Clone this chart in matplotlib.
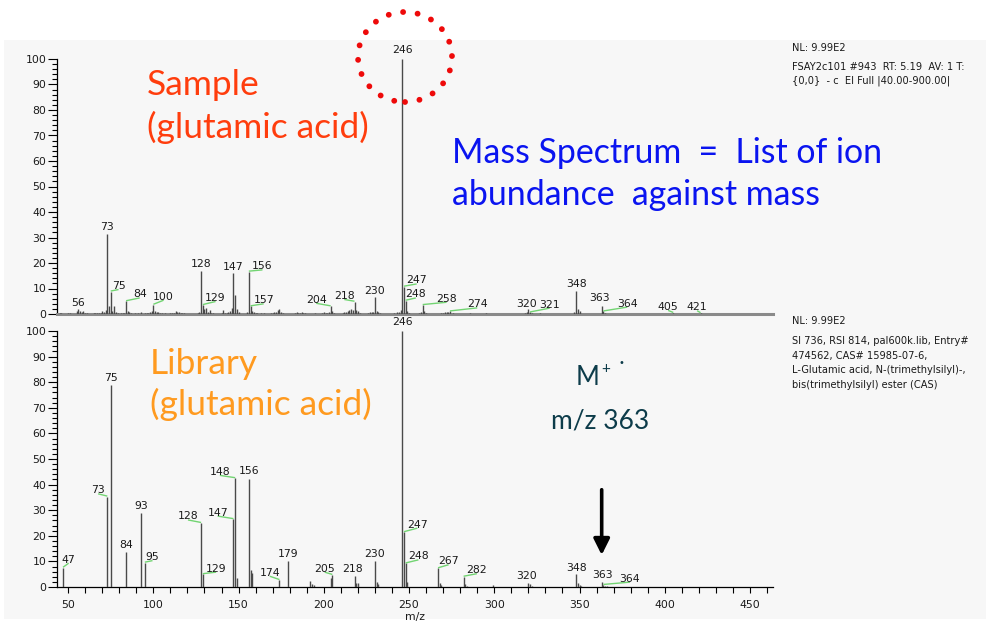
import matplotlib
matplotlib.use("Agg")
import matplotlib.pyplot as plt
from matplotlib.patches import Rectangle, Ellipse
from matplotlib.ticker import MultipleLocator

# ---------------- data ----------------
# Sample spectrum: m/z and relative abundance (%)
sample_mz = [45, 46, 50, 51, 55, 56, 57, 58, 59, 60, 61, 65, 66, 67, 68, 69, 70, 71, 72,
             73, 74, 75, 76, 77, 78, 79, 81, 82, 83, 84, 85, 86, 87, 89, 91, 93, 95, 96,
             97, 98, 99, 100, 101, 102, 103, 104, 105, 107, 110, 111, 112, 113, 114, 115,
             116, 117, 118, 126, 127, 128, 129, 130, 131, 132, 133, 134, 135, 140, 141,
             142, 143, 144, 145, 146, 147, 148, 149, 150, 155, 156, 157, 158, 159, 160,
             161, 163, 165, 169, 170, 171, 172, 173, 174, 175, 176, 183, 184, 185, 186,
             187, 188, 189, 195, 199, 200, 201, 202, 203, 204, 205, 206, 211, 212, 213,
             214, 215, 216, 217, 218, 219, 220, 221, 226, 227, 228, 229, 230, 231, 232,
             233, 241, 243, 244, 245, 246, 247, 248, 249, 250, 256, 257, 258, 259, 260,
             269, 270, 271, 272, 273, 274, 276, 286, 295, 318, 319, 320, 321, 322, 327,
             347, 348, 349, 350, 363, 364, 365, 405, 421]
sample_ab = [0.5, 0.3, 0.5, 0.4, 1.0, 2.0, 1.2, 0.8, 1.0, 0.4, 0.3, 0.4, 0.3, 0.4, 0.3, 0.5,
             1.0, 0.8, 1.5, 31.5, 3.0, 8.8, 1.2, 3.0, 0.6, 0.4, 0.5, 0.3, 0.4, 5.0, 1.0,
             0.6, 0.4, 0.4, 0.3, 0.6, 0.3, 0.4, 0.5, 0.8, 1.0, 3.6, 1.0, 0.8, 0.6, 0.4, 0.4,
             0.3, 0.4, 0.5, 0.4, 1.2, 0.8, 0.6, 0.5, 0.4, 0.3, 0.4, 0.6, 17.0, 3.5, 2.0,
             2.2, 0.8, 1.5, 0.4, 0.3, 0.5, 1.5, 0.5, 0.4, 0.6, 1.0, 2.5, 16.0, 7.5, 2.0,
             0.6, 0.6, 16.6, 3.0, 1.2, 0.8, 0.4, 0.3, 0.4, 0.4, 0.5, 0.5, 0.6, 0.9, 1.5,
             2.0, 0.8, 0.4, 0.4, 0.6, 0.4, 0.5, 0.6, 0.4, 0.3, 0.4, 0.5, 0.6, 0.4, 0.5,
             0.8, 3.0, 1.0, 0.5, 0.4, 0.6, 0.7, 1.2, 1.5, 2.0, 1.5, 4.8, 1.5, 1.0, 0.5,
             0.4, 0.6, 0.8, 0.6, 6.5, 1.2, 0.8, 0.4, 0.4, 0.6, 0.8, 1.5, 100.0, 10.7, 5.2,
             1.2, 0.5, 0.4, 0.8, 3.5, 1.0, 0.5, 0.5, 0.4, 0.6, 0.8, 0.6, 1.0, 0.4, 0.3,
             0.3, 0.3, 0.6, 1.8, 0.6, 0.5, 0.3, 0.6, 9.1, 2.0, 1.0, 3.3, 1.0, 0.5, 0.4, 0.3]

# Library spectrum
library_mz = [47, 73, 75, 84, 93, 95, 128, 129, 147, 148, 149, 156, 157, 158, 174, 179,
              192, 193, 194, 204, 205, 218, 219, 220, 230, 231, 232, 246, 247, 248, 249,
              267, 268, 269, 282, 283, 284, 299, 320, 321, 322, 348, 349, 350, 351, 363,
              364, 365, 366]
library_ab = [7.5, 35.3, 79.0, 13.8, 28.8, 9.5, 25.0, 5.0, 26.5, 42.5, 3.5, 42.2, 6.6, 5.5,
              2.7, 10.3, 2.3, 1.0, 0.6, 3.5, 4.7, 4.4, 1.5, 1.5, 10.3, 2.0, 1.0, 100.0,
              21.4, 9.2, 2.0, 7.3, 1.5, 0.6, 4.0, 1.0, 0.5, 0.8, 1.5, 1.0, 0.5, 5.0, 1.5,
              0.8, 0.5, 2.0, 0.8, 0.5, 0.3]

# Labelled peaks: m/z, label shift along m/z, label lift above the peak top (%)
sample_labels = [(56, 0, 1.3), (73, 0, 1.3), (75, 4.6, 1.0), (84, 8, 1.5), (100, 6, 2.0),
                 (128, 0, 1.3), (129, 7.5, 1.6), (147, 0, 1.3), (156, 8, 0.9),
                 (157, 7.7, 1.2), (204, -8.5, 1.4), (218, -6, 1.1), (230, 0, 1.3),
                 (246, 0, 2.2), (247, 7.5, 1.3), (248, 6, 1.3), (258, 14, 1.3),
                 (274, 16, 1.6), (320, -1, 1.1), (321, 11.5, 1.9), (348, 0, 1.5),
                 (363, -1, 1.9), (364, 14, 1.9), (405, -3, 1.2), (421, -2, 1.2)]
library_labels = [(47, 3.3, 2.0), (73, -5.4, 1.3), (75, 0, 1.6), (84, 0, 1.6),
                  (93, 0, 1.5), (95, 4.5, 1.0), (128, -7.7, 1.4), (129, 7.8, 1.0),
                  (147, -9.3, 1.4), (148, -9, 1.3), (156, 0, 1.8), (174, -5.7, 1.7),
                  (179, 0, 1.3), (205, -4.5, 1.3), (218, -1, 1.6), (230, 0, 1.5),
                  (246, 0, 2.3), (247, 7.9, 1.8), (248, 7.5, 1.6), (267, 6.2, 1.6),
                  (282, 7.8, 1.4), (320, -1, 1.5), (348, 0, 1.4), (363, 0.4, 1.4),
                  (364, 15.6, 1.3)]

xticks_major = [50, 100, 150, 200, 250, 300, 350, 400, 450]

sample_header = ["NL: 9.99E2",
                 "FSAY2c101 #943  RT: 5.19  AV: 1 T:",
                 "{0,0}  - c  EI Full |40.00-900.00|"]
library_header = ["NL: 9.99E2",
                  "SI 736, RSI 814, pal600k.lib, Entry#",
                  "474562, CAS# 15985-07-6,",
                  "L-Glutamic acid, N-(trimethylsilyl)-,",
                  "bis(trimethylsilyl) ester (CAS)"]

# ---------------- layout ----------------
W, H = 987, 625
fig = plt.figure(figsize=(W / 100, H / 100), dpi=100, facecolor="white")


def fx(px):
    return px / W


def fy(py):
    return 1 - py / H


# light panel behind the plots
fig.patches.append(Rectangle((fx(4), fy(619)), 1 - fx(4), fy(40) - fy(619),
                             transform=fig.transFigure, facecolor="#f7f7f7",
                             edgecolor="none", zorder=-10))

XLIM = (43.3, 463.5)
ax_left, ax_w = fx(56.7), (773 - 56.7) / W
ax_top = fig.add_axes([ax_left, fy(314), ax_w, (314 - 59) / H])
ax_bot = fig.add_axes([ax_left, fy(587), ax_w, (587 - 331) / H])

PEAK_COLOR = "#4a4a4a"
LEAD_COLOR = "#72d472"
TXT = "#1a1a1a"
LFS = 7.8


def draw_spectrum(ax, mz, ab, labels):
    ax.set_facecolor("none")
    ax.vlines(mz, 0, ab, color=PEAK_COLOR, lw=1.0, zorder=3)
    lookup = dict(zip(mz, ab))
    for m, dx, dy in labels:
        h = lookup[m]
        if abs(dx) >= 1.5:
            ax.plot([m, m + dx], [h + 0.2, h + dy - 0.2], color=LEAD_COLOR,
                    lw=1.0, solid_capstyle="butt", zorder=4, clip_on=False)
        ax.text(m + dx, h + dy, str(m), ha="center", va="baseline",
                fontsize=LFS, color=TXT, clip_on=False, zorder=5)
    ax.set_xlim(*XLIM)
    ax.set_ylim(0, 100)
    ax.yaxis.set_major_locator(MultipleLocator(10))
    ax.yaxis.set_minor_locator(MultipleLocator(2))
    ax.tick_params(axis="y", which="major", length=6.5, width=0.8, pad=1,
                   labelsize=LFS, labelcolor=TXT, direction="out")
    ax.tick_params(axis="y", which="minor", length=3.5, width=0.8, direction="out")
    for s in ("top", "right"):
        ax.spines[s].set_visible(False)
    ax.spines["left"].set_linewidth(0.9)


draw_spectrum(ax_top, sample_mz, sample_ab, sample_labels)
draw_spectrum(ax_bot, library_mz, library_ab, library_labels)

# upper plot: bare grey baseline, no x ticks
ax_top.tick_params(axis="x", which="both", bottom=False, labelbottom=False)
ax_top.spines["bottom"].set_color("#8a8a8a")
ax_top.spines["bottom"].set_linewidth(2.2)

# lower plot: m/z axis
ax_bot.set_xticks(xticks_major)
ax_bot.xaxis.set_minor_locator(MultipleLocator(10))
ax_bot.tick_params(axis="x", which="both", length=4, width=0.8, direction="out",
                   labelsize=LFS, labelcolor=TXT, pad=5)
ax_bot.spines["bottom"].set_linewidth(0.9)
ax_bot.set_xlabel("m/z", fontsize=LFS, color=TXT, labelpad=2)

# molecular ion arrow
ax_bot.annotate("", xy=(363, 12.5), xytext=(363, 38),
                arrowprops=dict(arrowstyle="-|>", lw=2.6, color="black",
                                mutation_scale=24, shrinkA=0, shrinkB=0))

# ---------------- annotations ----------------
BIG = "Lato"
SAMPLE_C, LIB_C, BLUE_C, ION_C = "#ff3d0d", "#ff9a1f", "#0a14f0", "#0d3c4a"
fig.text(fx(147), fy(95), "Sample", fontsize=25.5, family=BIG, color=SAMPLE_C)
fig.text(fx(147), fy(138), "(glutamic acid)", fontsize=25.5, family=BIG, color=SAMPLE_C)
fig.text(fx(150), fy(374), "Library", fontsize=25.5, family=BIG, color=LIB_C)
fig.text(fx(150), fy(415), "(glutamic acid)", fontsize=25.5, family=BIG, color=LIB_C)
fig.text(fx(452), fy(163), "Mass Spectrum  =  List of ion", fontsize=24.4, family=BIG,
         color=BLUE_C)
fig.text(fx(452), fy(205), "abundance  against mass", fontsize=24.4, family=BIG,
         color=BLUE_C)
fig.text(fx(576), fy(385), "M", fontsize=18.5, family=BIG, color=ION_C)
fig.text(fx(601), fy(373), "+", fontsize=11, family=BIG, color=ION_C)
fig.text(fx(618), fy(366), "\u2022", fontsize=7, family="DejaVu Sans", color=ION_C)
fig.text(fx(600), fy(429), "m/z 363", fontsize=19, family=BIG, color=ION_C,
         ha="center")

# dotted ring around the base peak
ring = Ellipse((fx(405), fy(57)), 94 / W, 90 / H, transform=fig.transFigure,
               fill=False, edgecolor="#ee0a0a", lw=4.2, linestyle=(0, (0.01, 2.5)),
               capstyle="round", zorder=20)
fig.patches.append(ring)

# instrument headers
HFS = 7.1
for i, line in enumerate(sample_header):
    y = 51 if i == 0 else 70 + (i - 1) * 14
    fig.text(fx(792), fy(y), line, fontsize=HFS, color=TXT, family="DejaVu Sans")
for i, line in enumerate(library_header):
    y = 324 if i == 0 else 344 + (i - 1) * 14.5
    fig.text(fx(792), fy(y), line, fontsize=HFS, color=TXT, family="DejaVu Sans")

fig.savefig("out.png", dpi=100, facecolor="white")
